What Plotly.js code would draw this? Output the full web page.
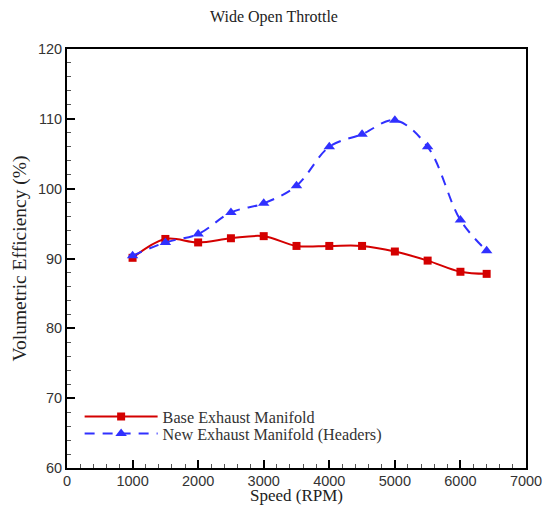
<!DOCTYPE html>
<html>
<head>
<meta charset="utf-8">
<script src="https://cdn.plot.ly/plotly-3.0.1.min.js"></script>
<style>html,body{margin:0;padding:0;background:#fff;}#chart{width:548px;height:506px;}</style>
</head>
<body>
<div id="chart"></div>
<script>
const speed = [1000, 1500, 2000, 2500, 3000, 3500, 4000, 4500, 5000, 5500, 6000, 6400];
const baseVE = [90.1, 92.8, 92.3, 92.9, 93.2, 91.8, 91.8, 91.8, 91.0, 89.7, 88.1, 87.8];
const headersVE = [90.4, 92.3, 93.5, 96.6, 97.9, 100.4, 106.0, 107.8, 109.8, 106.0, 95.5, 91.1];
const seriesNames = ["Base Exhaust Manifold", "New Exhaust Manifold (Headers)"];
const xTicks = [0, 1000, 2000, 3000, 4000, 5000, 6000, 7000];
const yTicks = [60, 70, 80, 90, 100, 110, 120];
const xTitle = 'Speed (RPM)';
const yTitle = 'Volumetric Efficiency (%)';
const chartTitle = 'Wide Open Throttle';

const traces = [
  {
    x: speed, y: baseVE, name: seriesNames[0], type: 'scatter', mode: 'lines+markers',
    legend: 'legend',
    line: {color: '#d40000', width: 2, shape: 'spline', smoothing: 1},
    marker: {symbol: 'square', size: 8, color: '#d40000'}
  },
  {
    x: speed, y: headersVE, name: seriesNames[1], type: 'scatter', mode: 'lines+markers',
    legend: 'legend2',
    line: {color: '#3030ff', width: 2, dash: '10px,8px', shape: 'spline', smoothing: 1},
    marker: {symbol: 'triangle-up', size: 10, color: '#3030ff'}
  }
];

const serif = 'Liberation Serif, Times New Roman, serif';
const axisCommon = {
  showgrid: false, zeroline: false, showline: true, mirror: true,
  linecolor: '#000', linewidth: 2,
  ticks: 'inside', ticklen: 8, tickwidth: 2, tickcolor: '#000',
  tickfont: {family: 'Liberation Sans, Arial, sans-serif', size: 14.5, color: '#333'},
  minor: {ticks: 'inside', ticklen: 4, tickwidth: 1, tickcolor: '#555', showgrid: false}
};

const legendCommon = {x: 0.0275, xanchor: 'left', yanchor: 'middle', bgcolor: 'rgba(0,0,0,0)',
  itemwidth: 73, font: {family: serif, size: 16.2, color: '#333'}};

const layout = {
  width: 548, height: 506,
  margin: {l: 67, r: 22, t: 49, b: 38},
  paper_bgcolor: '#fff', plot_bgcolor: '#fff',
  title: {text: chartTitle, x: 0.5, xanchor: 'center', y: 0.967, yanchor: 'middle',
    font: {family: serif, size: 16, color: '#222'}},
  xaxis: Object.assign({}, axisCommon, {
    range: [0, 7000], tickvals: xTicks, ticktext: xTicks.map(String),
    ticklabelstandoff: -1,
    minor: Object.assign({}, axisCommon.minor, {dtick: 200})
  }),
  yaxis: Object.assign({}, axisCommon, {
    range: [60, 120], tickvals: yTicks, ticktext: yTicks.map(String),
    minor: Object.assign({}, axisCommon.minor, {dtick: 2}),
    title: {text: yTitle, standoff: 6,
      font: {family: serif, size: 19.5, color: '#222'}}
  }),
  annotations: [{
    text: xTitle, xref: 'paper', yref: 'paper', x: 0.5, y: 0, xanchor: 'center', yanchor: 'bottom',
    yshift: -37.7, borderpad: 0, showarrow: false, font: {family: serif, size: 17, color: '#222'}
  }],
  showlegend: true,
  legend: Object.assign({}, legendCommon, {y: 0.122}),
  legend2: Object.assign({}, legendCommon, {y: 0.081})
};

Plotly.newPlot('chart', traces, layout, {displayModeBar: false, staticPlot: true});
</script>
</body>
</html>
